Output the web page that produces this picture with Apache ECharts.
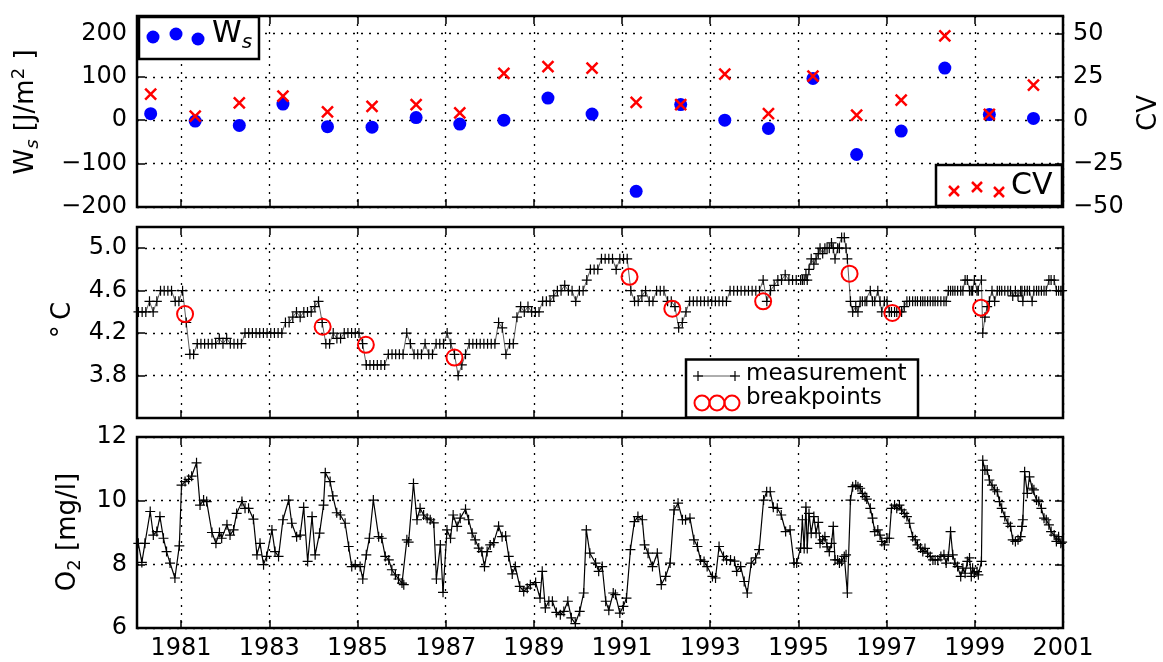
<!DOCTYPE html>
<html>
<head>
<meta charset="utf-8">
<script src="https://cdn.jsdelivr.net/npm/echarts@6/dist/echarts.min.js"></script>
<style>
html,body{margin:0;padding:0;background:#fff;}
#chart{width:1163px;height:662px;}
</style>
</head>
<body>
<div id="chart"></div>
<script>
// ---------------- data ----------------
const xTickYears = [1981, 1983, 1985, 1987, 1989, 1991, 1993, 1995, 1997, 1999, 2001];
const wsTicks = [-200, -100, 0, 100, 200];
const cvTicks = [-50, -25, 0, 25, 50];
const tempTicks = [3.8, 4.2, 4.6, 5.0];
const o2Ticks = [6, 8, 10, 12];

// yearly heat-content change and coefficient of variation
const analysisYears = [1980.31, 1981.32, 1982.32, 1983.31, 1984.32, 1985.33, 1986.33, 1987.32, 1988.32, 1989.32,
  1990.32, 1991.32, 1992.33, 1993.33, 1994.32, 1995.33, 1996.32, 1997.33, 1998.32, 1999.33, 2000.33];
const wsValues = [15, -2, -12, 37, -15, -16, 6, -9, 0, 51, 14, -164, 36, 0, -19, 96, -79, -25, 120, 13, 4];
const cvValues = [15, 2.3, 10, 13.8, 4.8, 8, 9, 4.2, 27, 30.8, 30, 10.2, 9, 26.5, 3.8, 25.4, 2.9, 11.5, 48.5, 3.3, 20.2];

// deep-water temperature, monthly 1980-1994
const tempMonthlyStart = 1980;
const tempMonthly = [
  4.4, 4.4, 4.4, 4.5, 4.4, 4.5, 4.6, 4.6, 4.6, 4.6, 4.5, 4.5,
  4.6, 4.3, 4.0, 4.0, 4.1, 4.1, 4.1, 4.1, 4.1, 4.1, 4.15, 4.1,
  4.15, 4.1, 4.1, 4.1, 4.1, 4.2, 4.2, 4.2, 4.2, 4.2, 4.2, 4.2,
  4.2, 4.2, 4.2, 4.2, 4.3, 4.3, 4.35, 4.4, 4.35, 4.4, 4.4, 4.4,
  4.45, 4.5, 4.3, 4.1, 4.1, 4.2, 4.15, 4.15, 4.2, 4.2, 4.2, 4.2,
  4.2, 4.1, 3.9, 3.9, 3.9, 3.9, 3.9, 3.9, 4.0, 4.0, 4.0, 4.0,
  4.0, 4.2, 4.1, 4.0, 4.0, 4.0, 4.1, 4.0, 4.0, 4.1, 4.1, 4.1,
  4.2, 4.1, 4.0, 3.8, 3.9, 4.0, 4.1, 4.1, 4.1, 4.1, 4.1, 4.1,
  4.1, 4.1, 4.3, 4.25, 4.0, 4.1, 4.1, 4.35, 4.45, 4.4, 4.45, 4.4,
  4.4, 4.4, 4.5, 4.5, 4.5, 4.55, 4.6, 4.6, 4.65, 4.6, 4.6, 4.5,
  4.6, 4.6, 4.7, 4.8, 4.8, 4.8, 4.9, 4.9, 4.9, 4.9, 4.8, 4.9,
  4.9, 4.9, 4.6, 4.5, 4.5, 4.55, 4.6, 4.5, 4.5, 4.6, 4.6, 4.6,
  4.5, 4.5, 4.45, 4.25, 4.3, 4.4, 4.5, 4.5, 4.5, 4.5, 4.5, 4.5,
  4.5, 4.5, 4.5, 4.5, 4.5, 4.6, 4.6, 4.6, 4.6, 4.6, 4.6, 4.6,
  4.6, 4.6, 4.7, 4.5, 4.6, 4.65, 4.7, 4.7, 4.75, 4.7, 4.7, 4.7
];

// denser sampling from 1995 on (shared by temperature and oxygen)
const denseDates = [
  1995.05, 1995.09, 1995.13, 1995.17, 1995.20, 1995.24, 1995.29, 1995.35, 1995.40, 1995.45,
  1995.49, 1995.55, 1995.60, 1995.65, 1995.70, 1995.75, 1995.79, 1995.83, 1995.89, 1995.93,
  1995.98, 1996.04, 1996.08, 1996.11, 1996.18, 1996.23, 1996.30, 1996.35, 1996.40, 1996.45,
  1996.51, 1996.55, 1996.63, 1996.68, 1996.73, 1996.80, 1996.85, 1996.89, 1996.95, 1997.01,
  1997.06, 1997.11, 1997.18, 1997.23, 1997.29, 1997.34, 1997.40, 1997.46, 1997.52, 1997.59,
  1997.65, 1997.70, 1997.77, 1997.82, 1997.87, 1997.93, 1997.99, 1998.05, 1998.10, 1998.16,
  1998.23, 1998.30, 1998.35, 1998.40, 1998.45, 1998.50, 1998.55, 1998.61, 1998.68, 1998.73,
  1998.78, 1998.83, 1998.88, 1998.92, 1998.95, 1998.99, 1999.05, 1999.08, 1999.15, 1999.18,
  1999.23, 1999.28, 1999.33, 1999.39, 1999.45, 1999.51, 1999.56, 1999.61, 1999.68, 1999.75,
  1999.81, 1999.86, 1999.92, 1999.98, 2000.04, 2000.07, 2000.09, 2000.13, 2000.19, 2000.24,
  2000.30, 2000.34, 2000.40, 2000.45, 2000.51, 2000.57, 2000.62, 2000.68, 2000.73, 2000.80,
  2000.85, 2000.90, 2000.95, 2000.98
];
const tempDense = [
  4.7, 4.7, 4.7, 4.75, 4.7, 4.8, 4.9, 4.85, 4.9, 4.95,
  5.0, 4.95, 5.0, 5.0, 5.0, 5.05, 5.0, 4.9, 5.0, 5.0,
  5.1, 5.1, 5.0, 4.9, 4.5, 4.4, 4.45, 4.4, 4.5, 4.5,
  4.5, 4.5, 4.6, 4.5, 4.5, 4.6, 4.5, 4.4, 4.5, 4.5,
  4.4, 4.4, 4.4, 4.4, 4.4, 4.4, 4.45, 4.5, 4.5, 4.5,
  4.5, 4.5, 4.5, 4.5, 4.5, 4.5, 4.5, 4.5, 4.5, 4.5,
  4.5, 4.5, 4.5, 4.6, 4.6, 4.6, 4.6, 4.6, 4.6, 4.6,
  4.7, 4.7, 4.6, 4.6, 4.6, 4.7, 4.6, 4.6, 4.7, 4.2,
  4.35, 4.45, 4.5, 4.6, 4.5, 4.6, 4.6, 4.6, 4.6, 4.6,
  4.6, 4.55, 4.6, 4.55, 4.6, 4.6, 4.5, 4.6, 4.6, 4.6,
  4.5, 4.6, 4.6, 4.6, 4.6, 4.6, 4.6, 4.7, 4.7, 4.7,
  4.6, 4.6, 4.6, 4.6
];

// dissolved oxygen 1980-1994
const o2EarlyDates = [
  1980.03, 1980.11, 1980.18, 1980.30, 1980.37, 1980.45, 1980.52, 1980.60, 1980.67, 1980.75, 1980.86, 1980.96,
  1981.01, 1981.09, 1981.17, 1981.24, 1981.35, 1981.43, 1981.51, 1981.58, 1981.70, 1981.79, 1981.87, 1981.92,
  1982.04, 1982.11, 1982.19, 1982.26, 1982.38, 1982.45, 1982.53, 1982.64, 1982.72, 1982.79, 1982.87, 1982.94,
  1983.06, 1983.13, 1983.21, 1983.31, 1983.44, 1983.51, 1983.62, 1983.70, 1983.78, 1983.87, 1983.97,
  1984.04, 1984.14, 1984.23, 1984.27, 1984.38, 1984.44, 1984.53, 1984.61, 1984.72, 1984.80, 1984.87, 1984.95,
  1985.06, 1985.12, 1985.20, 1985.27, 1985.36, 1985.48, 1985.55, 1985.63, 1985.71, 1985.78, 1985.86, 1985.93,
  1986.01, 1986.05, 1986.12, 1986.16, 1986.27, 1986.35, 1986.42, 1986.50, 1986.58, 1986.65, 1986.73, 1986.79, 1986.88, 1986.94,
  1987.03, 1987.11, 1987.17, 1987.26, 1987.33, 1987.45, 1987.52, 1987.60, 1987.67, 1987.75, 1987.82, 1987.88, 1987.94,
  1988.01, 1988.09, 1988.20, 1988.28, 1988.36, 1988.43, 1988.51, 1988.58, 1988.68, 1988.77, 1988.85, 1988.92,
  1989.04, 1989.14, 1989.19, 1989.26, 1989.34, 1989.42, 1989.51, 1989.60, 1989.68, 1989.77, 1989.85, 1989.94,
  1990.04, 1990.13, 1990.19, 1990.27, 1990.40, 1990.47, 1990.55, 1990.63, 1990.70, 1990.80, 1990.85, 1990.95,
  1991.03, 1991.10, 1991.19, 1991.28, 1991.36, 1991.46, 1991.51, 1991.59, 1991.69, 1991.80, 1991.89, 1991.99,
  1992.09, 1992.18, 1992.27, 1992.37, 1992.44, 1992.54, 1992.63, 1992.71, 1992.78, 1992.86, 1992.93,
  1993.05, 1993.12, 1993.20, 1993.30, 1993.37, 1993.46, 1993.55, 1993.60, 1993.69, 1993.77, 1993.84, 1993.93,
  1994.03, 1994.11, 1994.21, 1994.28, 1994.36, 1994.43, 1994.52, 1994.61, 1994.71, 1994.81, 1994.90, 1994.96
];
const o2EarlyValues = [
  8.66, 8.06, 8.66, 9.66, 8.92, 9.03, 9.5, 8.82, 8.4, 8.04, 7.57, 8.58,
  10.49, 10.6, 10.67, 10.77, 11.19, 9.86, 10.02, 9.97, 9.0, 8.66, 9.0, 8.82,
  9.24, 8.92, 9.08, 9.6, 9.97, 9.76, 9.76, 9.42, 8.3, 8.66, 7.99, 8.25,
  9.08, 8.4, 8.25, 9.4, 10.02, 9.29, 8.87, 8.92, 9.79, 8.09, 9.5,
  8.3, 8.98, 9.86, 10.88, 10.6, 10.15, 9.62, 9.55, 9.29, 8.56, 7.93, 7.99,
  7.93, 7.54, 8.3, 8.82, 10.02, 8.87, 8.82, 8.25, 8.14, 7.83, 7.67, 7.54,
  7.41, 7.36, 8.77, 8.7, 10.54, 9.4, 9.76, 9.55, 9.45, 9.4, 9.3, 7.54, 8.61, 7.12,
  9.08, 8.82, 9.55, 9.19, 9.45, 9.73, 9.4, 8.98, 8.77, 8.51, 8.4, 7.93, 8.4,
  8.61, 8.68, 9.2, 8.87, 8.89, 8.25, 7.7, 7.93, 7.31, 7.15, 7.25, 7.36,
  7.43, 6.94, 7.78, 6.63, 6.84, 6.84, 6.49, 6.42, 6.52, 6.84, 6.32, 6.14,
  6.52, 7.1, 9.08, 8.35, 8.04, 7.78, 7.93, 6.84, 6.56, 7.1, 7.05, 6.47,
  6.68, 6.94, 8.46, 9.34, 9.5, 9.4, 8.61, 8.35, 7.93, 8.35, 7.36, 7.62,
  8.04, 9.71, 9.92, 9.4, 9.4, 9.45, 8.77, 8.56, 8.14, 8.09, 7.93,
  7.62, 7.57, 8.56, 8.25, 8.14, 8.14, 8.1, 7.78, 7.93, 7.46, 7.1, 8.04,
  8.2, 8.46, 10.02, 10.28, 10.28, 9.79, 9.76, 9.55, 9.03, 9.08, 8.04, 8.04
];
const o2Dense = [
  8.51, 9.4, 8.5, 9.8, 8.5, 9.6, 8.98, 9.5, 8.98, 9.32,
  8.66, 8.77, 8.87, 8.55, 8.4, 8.66, 9.19, 8.14, 8.14, 8.04,
  8.1, 8.25, 8.3, 7.1, 10.02, 10.44, 10.49, 10.44, 10.39, 10.23,
  10.13, 10.05, 9.76, 9.45, 9.03, 9.08, 8.92, 8.72, 8.61, 8.82,
  8.82, 9.76, 9.86, 9.76, 9.86, 9.71, 9.6, 9.5, 9.29, 8.87,
  8.77, 8.61, 8.51, 8.4, 8.5, 8.35, 8.25, 8.14, 8.14, 8.14,
  8.25, 8.3, 8.04, 8.25, 9.03, 8.3, 8.04, 7.93, 7.62, 7.88,
  7.72, 8.09, 8.2, 7.62, 7.88, 7.72, 7.77, 7.67, 8.09, 11.27,
  10.96, 10.96, 10.65, 10.49, 10.34, 10.28, 9.97, 9.76, 9.5, 9.29,
  9.19, 8.77, 8.72, 8.77, 8.87, 9.19, 9.4, 10.91, 10.23, 10.75,
  10.39, 10.34, 10.02, 9.97, 9.76, 9.45, 9.4, 9.24, 9.03, 8.92,
  8.72, 8.87, 8.66, 8.7
];

// detected breakpoints in the temperature record
const breakDates = [1981.09, 1984.21, 1985.19, 1987.20, 1991.17, 1992.14, 1994.20, 1996.16, 1997.13, 1999.14];
const breakValues = [4.38, 4.26, 4.09, 3.97, 4.73, 4.43, 4.50, 4.76, 4.39, 4.44];

// ---------------- series tables ----------------
const tempDates = tempMonthly.map((v, i) => tempMonthlyStart + (i + 0.4) / 12).concat(denseDates);
const tempAll = tempMonthly.concat(tempDense);
const tempData = tempAll.map((v, i) => [tempDates[i], v]);
const o2Dates = o2EarlyDates.concat(denseDates);
const o2All = o2EarlyValues.concat(o2Dense);
const o2Data = o2All.map((v, i) => [o2Dates[i], v]);
const wsData = wsValues.map((v, i) => [analysisYears[i], v]);
const cvData = cvValues.map((v, i) => [analysisYears[i], v]);
const breakData = breakValues.map((v, i) => [breakDates[i], v]);

// ---------------- styling helpers ----------------
const FONT = 'DejaVu Sans';
const PLUS = 'path://M0,5L10,5M5,0L5,10';
const CROSS = 'path://M0,0L10,10M0,10L10,0';
const minus = v => (v < 0 ? '\u2212' + Math.abs(v) : String(v));
const dotted = {show: true, lineStyle: {color: '#000', width: 1.3, type: [2, 6]}};

function xAxisFor(gi, pos, withLabels) {
  return {
    type: 'value', gridIndex: gi, position: pos, min: 1980, max: 2001,
    axisLine: {show: false, onZero: false},
    axisTick: {show: true, inside: true, length: 8, customValues: xTickYears,
      lineStyle: {color: '#000', width: 1.5}},
    axisLabel: {show: withLabels, customValues: xTickYears, fontSize: 24, color: '#000',
      fontFamily: FONT, margin: 9, formatter: v => String(v)},
    splitLine: pos === 'bottom' ? dotted : {show: false}
  };
}
function yAxisFor(gi, pos, min, max, ticks, withLabels, fmt, grid) {
  return {
    type: 'value', gridIndex: gi, position: pos, min: min, max: max,
    axisLine: {show: false, onZero: false},
    axisTick: {show: true, inside: true, length: 8, customValues: ticks,
      lineStyle: {color: '#000', width: 1.5}},
    axisLabel: {show: withLabels, customValues: ticks, fontSize: 24, color: '#000',
      fontFamily: FONT, margin: 10, formatter: fmt},
    splitLine: grid ? dotted : {show: false}
  };
}
function plusMark(cx, cy, s) {
  return [
    {type: 'line', z: 102, shape: {x1: cx - s / 2, y1: cy, x2: cx + s / 2, y2: cy}, style: {stroke: '#000', lineWidth: 1.2}},
    {type: 'line', z: 102, shape: {x1: cx, y1: cy - s / 2, x2: cx, y2: cy + s / 2}, style: {stroke: '#000', lineWidth: 1.2}}
  ];
}
function crossMark(cx, cy, s) {
  const h = s / 2;
  return [
    {type: 'line', z: 102, shape: {x1: cx - h, y1: cy - h, x2: cx + h, y2: cy + h}, style: {stroke: '#ff0000', lineWidth: 2.5}},
    {type: 'line', z: 102, shape: {x1: cx - h, y1: cy + h, x2: cx + h, y2: cy - h}, style: {stroke: '#ff0000', lineWidth: 2.5}}
  ];
}
const subStyle = {fontSize: 18, fontFamily: FONT, fill: '#000', lineHeight: 14, verticalAlign: 'bottom'};
const subItalic = Object.assign({}, subStyle, {fontStyle: 'italic'});
const supStyle = {fontSize: 18, fontFamily: FONT, fill: '#000', lineHeight: 14, verticalAlign: 'top'};
const mainStyle = {fontSize: 26, fontFamily: FONT, fill: '#000', lineHeight: 32};

const graphics = [
  // axis titles
  {type: 'text', x: 26, y: 112, rotation: Math.PI / 2, z: 100,
    style: {text: '{m|W}{s|s}{m| [J/m}{p|2}{m| ]}', align: 'center', verticalAlign: 'middle',
      rich: {m: mainStyle, s: subItalic, p: supStyle}}},
  {type: 'text', x: 1149, y: 113, rotation: Math.PI / 2, z: 100,
    style: {text: 'CV', fontSize: 26, fontFamily: FONT, fill: '#000', align: 'center', verticalAlign: 'middle'}},
  {type: 'text', x: 63, y: 320, rotation: Math.PI / 2, z: 100,
    style: {text: '\u00b0\u2009C', fontSize: 26, fontFamily: FONT, fill: '#000', align: 'center', verticalAlign: 'middle'}},
  {type: 'text', x: 68, y: 532, rotation: Math.PI / 2, z: 100,
    style: {text: '{m|O}{s|2}{m| [mg/l]}', align: 'center', verticalAlign: 'middle',
      rich: {m: mainStyle, s: subStyle}}},

  // Ws legend
  {type: 'rect', z: 100, shape: {x: 139, y: 17, width: 120, height: 42}, style: {fill: '#fff', stroke: '#000', lineWidth: 2.5}},
  {type: 'circle', z: 101, shape: {cx: 153, cy: 37, r: 6.5}, style: {fill: '#0000ff'}},
  {type: 'circle', z: 101, shape: {cx: 176, cy: 34, r: 6.5}, style: {fill: '#0000ff'}},
  {type: 'circle', z: 101, shape: {cx: 198, cy: 39, r: 6.5}, style: {fill: '#0000ff'}},
  {type: 'text', x: 212, y: 34.5, z: 101,
    style: {text: '{m|W}{s|s}', align: 'left', verticalAlign: 'middle',
      rich: {m: {fontSize: 30, fontFamily: FONT, fill: '#000', lineHeight: 36},
             s: {fontSize: 20, fontFamily: FONT, fontStyle: 'italic', fill: '#000', lineHeight: 16, verticalAlign: 'bottom'}}}},

  // CV legend
  {type: 'rect', z: 100, shape: {x: 936, y: 165, width: 126, height: 41}, style: {fill: '#fff', stroke: '#000', lineWidth: 2.5}},
  ...crossMark(954, 191, 10), ...crossMark(977, 187, 10), ...crossMark(999, 192, 10),
  {type: 'text', x: 1011, y: 186.5, z: 101,
    style: {text: 'CV', fontSize: 30, fontFamily: FONT, fill: '#000', align: 'left', verticalAlign: 'middle'}},

  // temperature legend
  {type: 'rect', z: 100, shape: {x: 686, y: 359.5, width: 232, height: 58}, style: {fill: '#fff', stroke: '#000', lineWidth: 2.5}},
  {type: 'line', z: 101, shape: {x1: 698, y1: 376, x2: 735, y2: 376}, style: {stroke: '#333', lineWidth: 0.8}},
  ...plusMark(698, 376, 10), ...plusMark(735, 376, 10),
  {type: 'text', x: 746, y: 374, z: 101,
    style: {text: 'measurement', fontSize: 23, fontFamily: FONT, fill: '#000', align: 'left', verticalAlign: 'middle'}},
  {type: 'circle', z: 101, shape: {cx: 702, cy: 403, r: 7.5}, style: {fill: 'none', stroke: '#ff0000', lineWidth: 2}},
  {type: 'circle', z: 101, shape: {cx: 717, cy: 403, r: 7.5}, style: {fill: 'none', stroke: '#ff0000', lineWidth: 2}},
  {type: 'circle', z: 101, shape: {cx: 732, cy: 403, r: 7.5}, style: {fill: 'none', stroke: '#ff0000', lineWidth: 2}},
  {type: 'text', x: 746, y: 398.5, z: 101,
    style: {text: 'breakpoints', fontSize: 23, fontFamily: FONT, fill: '#000', align: 'left', verticalAlign: 'middle'}}
];

const gridBase = {left: 137, right: 100, height: 191, show: true, borderColor: '#000', borderWidth: 2.5, backgroundColor: '#fff'};

const option = {
  animation: false,
  textStyle: {fontFamily: FONT},
  grid: [
    Object.assign({top: 16}, gridBase),
    Object.assign({top: 227}, gridBase),
    Object.assign({top: 437}, gridBase)
  ],
  xAxis: [
    xAxisFor(0, 'bottom', false), xAxisFor(0, 'top', false),
    xAxisFor(1, 'bottom', false), xAxisFor(1, 'top', false),
    xAxisFor(2, 'bottom', true), xAxisFor(2, 'top', false)
  ],
  yAxis: [
    yAxisFor(0, 'left', -200, 240, wsTicks, true, minus, true),
    yAxisFor(0, 'right', -50, 60, cvTicks, true, minus, false),
    yAxisFor(1, 'left', 3.4, 5.2, tempTicks, true, v => v.toFixed(1), true),
    yAxisFor(1, 'right', 3.4, 5.2, tempTicks, false, v => v.toFixed(1), false),
    yAxisFor(2, 'left', 6, 12, o2Ticks, true, v => String(v), true),
    yAxisFor(2, 'right', 6, 12, o2Ticks, false, v => String(v), false)
  ],
  series: [
    {type: 'scatter', name: 'Ws', xAxisIndex: 0, yAxisIndex: 0, data: wsData, silent: true,
      symbol: 'circle', symbolSize: 13, itemStyle: {color: '#0000ff', opacity: 1}, z: 3},
    {type: 'scatter', name: 'CV', xAxisIndex: 0, yAxisIndex: 1, data: cvData, silent: true,
      symbol: CROSS, symbolSize: 11, itemStyle: {color: 'transparent', borderColor: '#ff0000', borderWidth: 2.5, opacity: 1}, z: 4},
    {type: 'line', name: 'measurement', xAxisIndex: 2, yAxisIndex: 2, data: tempData, silent: true,
      symbol: PLUS, symbolSize: 10, showSymbol: true, showAllSymbol: true,
      lineStyle: {color: '#333', width: 0.8},
      itemStyle: {color: 'transparent', borderColor: '#000', borderWidth: 1.2}, z: 3},
    {type: 'scatter', name: 'breakpoints', xAxisIndex: 2, yAxisIndex: 2, data: breakData, silent: true,
      symbol: 'circle', symbolSize: 16, itemStyle: {color: 'transparent', borderColor: '#ff0000', borderWidth: 2, opacity: 1}, z: 4},
    {type: 'line', name: 'O2', xAxisIndex: 4, yAxisIndex: 4, data: o2Data, silent: true,
      symbol: PLUS, symbolSize: 10, showSymbol: true, showAllSymbol: true,
      lineStyle: {color: '#000', width: 1.2},
      itemStyle: {color: 'transparent', borderColor: '#000', borderWidth: 1.2}, z: 3}
  ],
  graphic: graphics
};

const chart = echarts.init(document.getElementById('chart'), null, {renderer: 'canvas', width: 1163, height: 662});
chart.setOption(option);
</script>
</body>
</html>
